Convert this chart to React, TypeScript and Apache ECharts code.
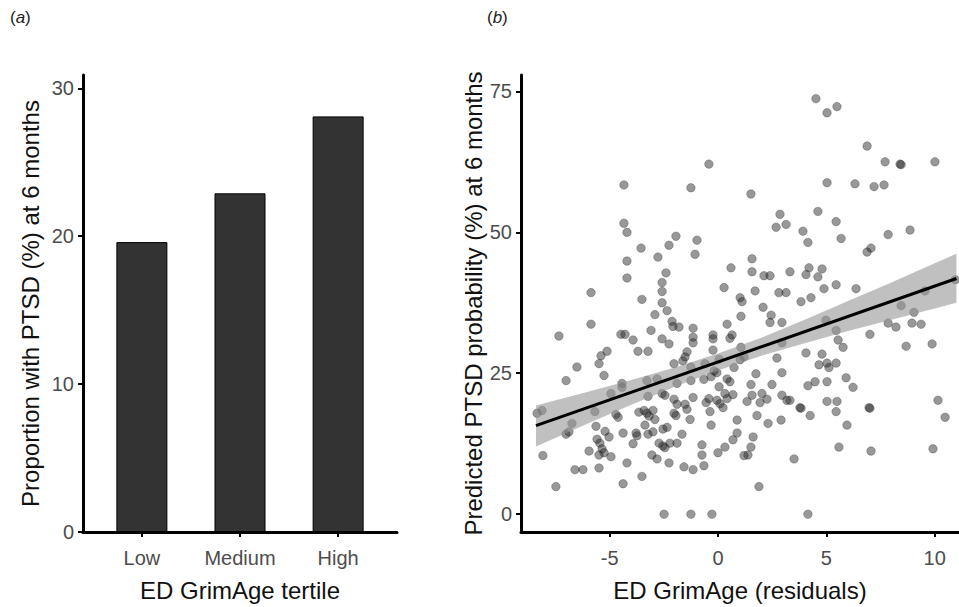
import React, { useEffect, useRef } from "react";
import * as echarts from "echarts";

// Panel (a): bar chart
const tertiles = ["Low", "Medium", "High"];
const proportionPTSD = [19.6, 22.9, 28.1];
const barYTicks = [0, 10, 20, 30];

// Panel (b): scatter of residuals vs predicted probability
const residualX = [
  -0.42, -4.34, -1.25, -4.34, -4.2, -1.94, -0.97, -3.55, -2.26, -2.77, -1.06, -4.2, 0.6, -2.4, -4.2, -2.58, 0.28, -5.86, -2.58, -3.51,
  -2.58, 1.02, 1.11, -2.35, -2.91, 1.06, 4.52, 5.03, 5.49, 6.88, 7.71, 8.4, 8.45, 10.01, 1.52, 5.03, 6.32, 7.2, 7.66, 2.86,
  2.68, 3.14, 4.61, 5.45, 3.92, 4.15, 5.68, 7.85, 8.86, 6.88, 7.06, 1.57, 1.57, 2.12, 2.4, 3.32, 4.2, 4.8, 4.06, 4.61,
  5.45, 4.89, 6.37, 1.71, 2.81, 3.14, 4.29, 3.83, 2.08, 2.45, 8.45, 9.04, 9.55, 10.95, 2.4, 2.95, 4.98, 5.45, 5.54, 5.77,
  2.95, 1.2, 2.72, 4.06, 4.8, 4.66, 5.03, 5.12, 5.45, 1.75, 2.95, 1.52, 2.49, 4.15, 4.48, 5.03, 5.91, 6.23, 1.57, 2.03,
  2.26, 1.34, 1.94, 2.95, 3.18, 3.32, 5.03, 5.49, 7.01, 7.85, 8.21, 8.95, 9.37, 8.68, 9.88, 3.78, 3.83, 5.45, 6.97, 7.01,
  10.15, 10.48, 1.8, 2.31, 2.91, 4.25, 5.95, 1.62, 1.52, 1.38, 5.58, 7.06, 9.92, 3.51, 1.89, 4.15, -5.86, -7.34, -4.48, -4.29,
  -3.92, -3.09, -2.12, -2.08, -1.8, -1.15, -1.15, -1.15, -0.23, -0.23, 0.42, 0.65, 0.55, 1.06, -2.58, -2.26, -3.69, -3.23, -5.12, -5.4,
  -5.49, -6.51, -7.01, -5.26, -2.03, -1.43, -1.52, -1.62, -0.23, -1.25, -0.6, -0.18, -0.05, 0.42, 0.55, 0.74, 1.02, -4.94, -4.43, -4.43,
  -3.28, -2.81, -2.58, -2.45, -3.23, -1.89, -1.25, -0.65, -0.32, 0.05, 0.32, -8.35, -8.12, -6.74, -7.01, -6.88, -5.68, -4.71, -4.61, -3.65,
  -3.41, -3.28, -3.18, -3.0, -2.03, -1.89, -1.52, -1.43, -1.15, -0.55, -0.05, 0.09, 0.23, -0.37, -2.03, -1.94, -2.91, -1.29, -0.32, 0.88,
  -3.37, -2.54, -2.35, -5.63, -5.21, -5.03, -5.58, -5.45, -5.35, -4.38, -3.78, -3.74, -3.23, -3.92, -3.0, -2.72, -2.54, -2.45, -2.22, -1.89,
  -1.66, -0.74, -0.74, 0.0, 0.32, 0.69, 0.88, 1.2, -8.08, -5.95, -5.49, -4.94, -3.05, -2.81, -2.26, -4.2, -6.6, -6.23, -5.49, -1.57,
  -1.15, -0.65, -3.51, -4.38, -7.48, -2.49, -1.25, -0.28, -5.26, 0.69, -0.42, 0.42, 0.05,
];
const predictedY = [
  62.1, 58.4, 57.9, 51.6, 50.0, 49.3, 48.6, 47.2, 47.7, 45.6, 46.1, 44.9, 43.7, 42.8, 41.9, 41.1, 40.2, 39.3, 39.5, 38.1,
  37.5, 38.4, 37.7, 36.1, 35.4, 35.1, 73.7, 71.2, 72.3, 65.3, 62.5, 62.1, 62.0, 62.5, 56.8, 58.8, 58.6, 58.1, 58.4, 53.2,
  50.9, 51.4, 53.7, 51.9, 50.2, 48.2, 48.9, 49.6, 50.4, 46.5, 47.2, 45.3, 43.0, 42.3, 42.3, 43.0, 43.7, 43.5, 42.5, 42.1,
  40.7, 40.0, 40.0, 39.6, 39.3, 39.3, 38.4, 37.7, 36.7, 35.3, 37.0, 35.8, 39.6, 41.6, 34.0, 34.0, 34.4, 32.6, 30.9, 29.6,
  30.4, 27.9, 27.7, 28.6, 28.4, 26.5, 26.8, 26.0, 26.8, 24.9, 25.1, 23.0, 23.0, 22.8, 23.5, 23.5, 24.2, 22.5, 21.1, 21.4,
  20.4, 20.0, 19.8, 21.1, 20.2, 20.2, 20.0, 20.0, 31.9, 33.9, 33.2, 33.9, 33.7, 29.8, 30.2, 18.9, 18.8, 18.2, 18.9, 18.8,
  20.2, 17.2, 17.5, 16.1, 16.7, 17.5, 15.8, 13.7, 11.9, 10.5, 11.9, 11.2, 11.6, 9.8, 4.9, 0.0, 33.7, 31.6, 31.9, 31.9,
  30.9, 32.6, 34.2, 33.3, 33.2, 33.0, 31.4, 30.4, 31.8, 31.1, 33.7, 31.8, 31.2, 29.6, 31.1, 30.2, 28.9, 28.9, 28.9, 28.1,
  26.7, 26.1, 23.7, 24.6, 26.7, 28.8, 27.9, 27.2, 29.1, 26.1, 26.7, 25.4, 25.1, 24.0, 23.5, 26.0, 27.4, 21.4, 23.2, 22.5,
  23.7, 24.0, 21.4, 21.1, 20.9, 23.2, 23.7, 23.9, 24.4, 22.6, 21.4, 17.9, 18.4, 16.1, 14.2, 14.6, 18.2, 17.7, 17.2, 18.1,
  18.4, 17.9, 17.4, 18.4, 20.4, 19.5, 19.5, 18.6, 20.7, 19.8, 20.2, 19.6, 18.9, 18.2, 17.9, 17.5, 16.8, 16.8, 15.8, 16.7,
  15.8, 15.1, 15.4, 15.6, 14.7, 13.7, 13.3, 12.6, 11.6, 14.4, 14.4, 13.9, 14.2, 12.5, 14.6, 12.6, 12.1, 11.8, 12.6, 12.6,
  14.2, 12.3, 10.5, 10.9, 11.9, 13.2, 14.4, 10.4, 10.4, 11.2, 10.5, 10.2, 10.5, 9.8, 9.1, 9.1, 7.9, 7.9, 8.2, 8.4,
  7.9, 8.6, 6.7, 5.4, 4.9, 0.0, 0.0, 0.0, 10.9, 21.2, 20.5, 20.5, 27.5,
];

// Fitted regression line end points and confidence band
const fitX = [-8.4, 11.0];
const fitY = [15.7, 41.8];
const bandX = [-8.4, -6, -4, -2, 0, 2, 4, 6, 8, 10, 11];
const bandLower = [12.0, 16.1, 19.4, 22.6, 25.5, 28.1, 30.3, 32.5, 34.5, 36.5, 37.5];
const bandUpper = [19.3, 21.7, 23.8, 26.0, 28.5, 31.3, 34.5, 37.8, 41.1, 44.5, 46.2];

const scatterXTicks = [-5, 0, 5, 10];
const scatterYTicks = [0, 25, 50, 75];

const FONT = "Liberation Sans, Arial, Helvetica, sans-serif";
const TICK_SIZE = 20;
const TITLE_SIZE = 24;

export default function App() {
  const ref = useRef<HTMLDivElement>(null);
  useEffect(() => {
    if (!ref.current) return;
    const chart = echarts.init(ref.current, null, { renderer: "svg" });
    const axisLine = { show: true, onZero: false, lineStyle: { color: "#000", width: 3 } };
    const axisTick = (vals: number[]) => ({
      show: true,
      customValues: vals,
      length: 5,
      lineStyle: { color: "#000", width: 2 },
    });
    const labelStyle = { color: "#4d4d4d", fontSize: TICK_SIZE, fontFamily: FONT };
    const nameStyle = { color: "#111", fontSize: TITLE_SIZE, fontFamily: FONT };
    const panelLabel = (letter: string, left: number) => ({
      type: "text",
      left,
      top: 9,
      style: {
        text: `({i|${letter}})`,
        fontSize: 17,
        fontFamily: FONT,
        fill: "#222",
        rich: { i: { fontStyle: "italic", fontSize: 17, fontFamily: FONT, fill: "#222" } },
      },
    });

    chart.setOption({
      animation: false,
      backgroundColor: "#fff",
      textStyle: { fontFamily: FONT },
      grid: [
        { left: 83, top: 75, width: 314, height: 462 },
        { left: 521, top: 75, width: 438, height: 462 },
      ],
      xAxis: [
        {
          gridIndex: 0,
          type: "value",
          min: 0.4,
          max: 3.6,
          axisLine,
          axisTick: axisTick([1, 2, 3]),
          axisLabel: {
            ...labelStyle,
            customValues: [1, 2, 3],
            margin: 16,
            formatter: (v: number) => tertiles[Math.round(v) - 1] ?? "",
          },
          splitLine: { show: false },
          name: "ED GrimAge tertile",
          nameLocation: "middle",
          nameGap: 46,
          nameTextStyle: nameStyle,
        },
        {
          gridIndex: 1,
          type: "value",
          min: -9.09,
          max: 11.12,
          axisLine,
          axisTick: axisTick(scatterXTicks),
          axisLabel: { ...labelStyle, customValues: scatterXTicks, margin: 16 },
          splitLine: { show: false },
          name: "ED GrimAge (residuals)",
          nameLocation: "middle",
          nameGap: 46,
          nameTextStyle: nameStyle,
        },
      ],
      yAxis: [
        {
          gridIndex: 0,
          type: "value",
          min: 0,
          max: 30.9,
          axisLine,
          axisTick: axisTick(barYTicks),
          axisLabel: { ...labelStyle, customValues: barYTicks, margin: 9 },
          splitLine: { show: false },
          name: "Proportion with PTSD (%) at 6 months",
          nameLocation: "middle",
          nameGap: 41,
          nameTextStyle: nameStyle,
        },
        {
          gridIndex: 1,
          type: "value",
          min: -3.16,
          max: 77.9,
          axisLine,
          axisTick: axisTick(scatterYTicks),
          axisLabel: { ...labelStyle, customValues: scatterYTicks, margin: 9 },
          splitLine: { show: false },
          name: "Predicted PTSD probability (%) at 6 months",
          nameLocation: "middle",
          nameGap: 34,
          nameTextStyle: nameStyle,
        },
      ],
      graphic: [panelLabel("a", 10), panelLabel("b", 487)],
      series: [
        {
          type: "bar",
          xAxisIndex: 0,
          yAxisIndex: 0,
          barWidth: 51,
          data: tertiles.map((_, i) => [i + 1, proportionPTSD[i]]),
          itemStyle: { color: "#333333", borderColor: "#000", borderWidth: 1 },
          z: 2,
        },
        {
          type: "scatter",
          xAxisIndex: 1,
          yAxisIndex: 1,
          symbolSize: 8.5,
          data: residualX.map((x, i) => [x, predictedY[i]]),
          itemStyle: {
            color: "rgba(40,40,40,0.6)",
            borderColor: "rgba(0,0,0,0.3)",
            borderWidth: 1,
          },
          z: 2,
        },
        {
          type: "custom",
          xAxisIndex: 1,
          yAxisIndex: 1,
          data: bandX.map((x, i) => [x, bandLower[i], bandUpper[i]]),
          renderItem: (params: any, api: any) => {
            if (params.dataIndex !== 0) return null;
            const upper = bandX.map((x, i) => api.coord([x, bandUpper[i]]));
            const lower = bandX.map((x, i) => api.coord([x, bandLower[i]])).reverse();
            return {
              type: "polygon",
              shape: { points: upper.concat(lower) },
              style: { fill: "rgba(150,150,150,0.6)" },
            };
          },
          clip: true,
          z: 3,
          silent: true,
        },
        {
          type: "line",
          xAxisIndex: 1,
          yAxisIndex: 1,
          data: fitX.map((x, i) => [x, fitY[i]]),
          showSymbol: false,
          lineStyle: { color: "#000", width: 3 },
          z: 4,
          clip: true,
        },
      ],
    });
    return () => chart.dispose();
  }, []);
  return (
    <div
      ref={ref}
      style={{ position: "fixed", left: 0, top: 0, width: 959, height: 607, background: "#fff" }}
    />
  );
}
